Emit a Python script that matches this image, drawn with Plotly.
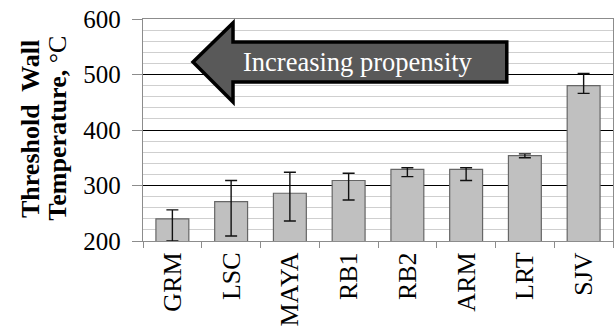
import plotly.graph_objects as go

# Threshold wall temperature per fuel, with asymmetric spread
fuels = ["GRM", "LSC", "MAYA", "RB1", "RB2", "ARM", "LRT", "SJV"]
temps = [240, 271, 286, 309, 329, 329, 354, 480]
err_plus = [16, 38, 38, 13, 3, 3, 3, 22]
err_minus = [40, 62, 50, 35, 13, 20, 4, 14]

y_ticks = [200, 300, 400, 500, 600]

SERIF = "Liberation Serif"
AXIS_GRAY = "#8c8c8c"

fig = go.Figure()
fig.add_trace(go.Bar(
    x=fuels,
    y=temps,
    marker=dict(color="#c0c0c0", line=dict(color="#666666", width=1.2)),
    error_y=dict(type="data", symmetric=False, array=err_plus,
                 arrayminus=err_minus, color="#111111", thickness=1.4, width=6),
    showlegend=False,
))

# Left-pointing arrow with label
TIP, HEAD, SR = 0.1064, 0.1915, 0.774
yc, ht, hb, st, sb = 0.806, 0.982, 0.626, 0.896, 0.716
arrow_path = (f"M {TIP},{yc} L {HEAD},{ht} L {HEAD},{st} L {SR},{st} "
              f"L {SR},{sb} L {HEAD},{sb} L {HEAD},{hb} Z")
fig.add_shape(type="path", path=arrow_path, xref="paper", yref="paper",
              fillcolor="#595959", line=dict(color="#000000", width=3.5),
              layer="above")
fig.add_annotation(text="Increasing propensity", xref="paper", yref="paper",
                   x=0.458, y=yc, showarrow=False, xanchor="center", yanchor="middle",
                   font=dict(family=SERIF, size=26.5, color="#ffffff"))

# Two-line y-axis title
fig.add_annotation(text="<b>Threshold  Wall</b>", xref="paper", yref="paper",
                   x=-0.238, y=0.505, textangle=-90, showarrow=False,
                   xanchor="center", yanchor="middle",
                   font=dict(family=SERIF, size=26, color="#000000"))
fig.add_annotation(text="<b>Temperature,</b> °C", xref="paper", yref="paper",
                   x=-0.181, y=0.51, textangle=-90, showarrow=False,
                   xanchor="center", yanchor="middle",
                   font=dict(family=SERIF, size=26, color="#000000"))

fig.update_layout(
    width=615, height=336,
    margin=dict(l=143, r=2, t=19, b=95),
    paper_bgcolor="#ffffff", plot_bgcolor="#ffffff",
    bargap=0.44,
    font=dict(family=SERIF, size=26, color="#000000"),
)
fig.update_xaxes(
    type="category", tickangle=-90, tickson="boundaries",
    ticks="outside", ticklen=6, tickcolor=AXIS_GRAY, tickwidth=1,
    showline=True, linecolor=AXIS_GRAY, linewidth=1, mirror=True,
    showgrid=False,
    tickfont=dict(family=SERIF, size=26, color="#000000"),
)
fig.update_yaxes(
    range=[200, 600], tickvals=y_ticks,
    ticktext=[f"{v}\u00a0" for v in y_ticks],
    ticks="outside", ticklen=10, tickcolor=AXIS_GRAY, tickwidth=1,
    showline=True, linecolor=AXIS_GRAY, linewidth=1, mirror=True,
    showgrid=True, gridcolor="#000000", gridwidth=1,
    minor=dict(dtick=20, showgrid=True, gridcolor="#cfcfcf", gridwidth=1, ticks=""),
    zeroline=False,
    tickfont=dict(family=SERIF, size=25, color="#000000"),
)

fig.write_html("out.html")
